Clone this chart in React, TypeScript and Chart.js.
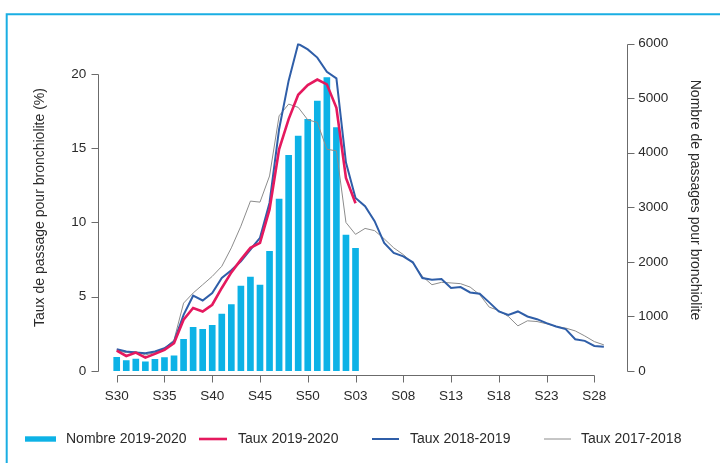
import React, { useEffect, useRef } from "react";
import { Chart, registerables } from "chart.js";

Chart.register(...registerables);

// ---------- Data ----------
const WEEKS = [
  "S30", "S31", "S32", "S33", "S34", "S35", "S36", "S37", "S38", "S39",
  "S40", "S41", "S42", "S43", "S44", "S45", "S46", "S47", "S48", "S49",
  "S50", "S51", "S52", "S01", "S02", "S03", "S04", "S05", "S06", "S07",
  "S08", "S09", "S10", "S11", "S12", "S13", "S14", "S15", "S16", "S17",
  "S18", "S19", "S20", "S21", "S22", "S23", "S24", "S25", "S26", "S27",
  "S28", "S29",
];

// Number of ER visits for bronchiolitis, 2019-2020 (right axis)
const NOMBRE_2019_2020 = [
  251, 189, 220, 170, 214, 244, 280, 581, 801, 764,
  837, 1044, 1215, 1557, 1722, 1576, 2193, 3151, 3952, 4306,
  4612, 4947, 5374, 4458, 2492, 2248,
];

// Rates (%) (left axis)
const TAUX_2019_2020 = [
  1.37, 1.01, 1.24, 0.9, 1.15, 1.42, 1.87, 3.45, 4.24, 4.01,
  4.46, 5.59, 6.64, 7.5, 8.29, 8.63, 10.88, 14.93, 16.96, 18.6,
  19.25, 19.62, 19.3, 17.72, 13.0, 11.3,
];

const TAUX_2018_2019 = [
  1.47, 1.31, 1.24, 1.19, 1.31, 1.53, 1.98, 3.78, 5.07, 4.75,
  5.25, 6.26, 6.78, 7.39, 8.18, 8.97, 11.33, 16.28, 19.55, 22.03,
  21.65, 21.1, 20.15, 19.7, 14.03, 11.65, 11.1, 10.09, 8.63, 7.95,
  7.72, 7.32, 6.26, 6.15, 6.2, 5.59, 5.65, 5.29, 5.2, 4.62,
  4.01, 3.78, 4.01, 3.67, 3.49, 3.22, 3.0, 2.82, 2.14, 2.03,
  1.69, 1.64,
];

const TAUX_2017_2018 = [
  1.37, 1.24, 1.31, 1.08, 1.24, 1.53, 2.09, 4.57, 5.25, 5.81,
  6.37, 7.05, 8.29, 9.75, 11.44, 11.37, 13.13, 17.18, 17.97, 17.75,
  16.91, 16.74, 14.93, 14.82, 10.0, 9.2, 9.6, 9.45, 8.9, 8.29,
  7.84, 7.27, 6.37, 5.81, 5.97, 5.93, 5.88, 5.65, 5.14, 4.3,
  4.07, 3.67, 3.04, 3.38, 3.33, 3.18, 3.0, 2.89, 2.7, 2.36,
  1.98, 1.76,
];

const LEFT_TICKS = [0, 5, 10, 15, 20];
const RIGHT_TICKS = [0, 1000, 2000, 3000, 4000, 5000, 6000];
const X_TICK_STEP = 5;

const LEFT_TITLE = "Taux de passage pour bronchiolite (%)";
const RIGHT_TITLE = "Nombre de passages pour bronchiolite";

// ---------- Styles ----------
const FONT = '"Liberation Sans", Arial, Helvetica, sans-serif';
const TEXT = "#2b2b2b";
const AXIS = "#6b6b6b";
const CYAN = "#0db2e6";
const RED = "#e5195e";
const BLUE = "#2f5ea8";
const GREY = "#8c8c8c";
const FRAME = "#1aaee3";

const toPoints = (arr: number[]) => arr.map((v, i) => ({ x: i, y: v }));

const decorPlugin = {
  id: "decor",
  afterDraw(chart: any) {
    const ctx = chart.ctx as CanvasRenderingContext2D;
    const area = chart.chartArea;
    const xS = chart.scales.x;
    const yL = chart.scales.y;
    const yR = chart.scales.y2;
    ctx.save();

    // frame
    ctx.strokeStyle = FRAME;
    ctx.lineWidth = 2;
    ctx.beginPath();
    ctx.moveTo(6.7, 463);
    ctx.lineTo(6.7, 14.3);
    ctx.lineTo(720, 14.3);
    ctx.stroke();

    // axes
    ctx.strokeStyle = AXIS;
    ctx.lineWidth = 1;
    const px = (v: number) => Math.round(v) + 0.5;

    // left axis
    const xl = px(area.left);
    ctx.beginPath();
    ctx.moveTo(xl, px(yL.getPixelForValue(LEFT_TICKS[0])));
    ctx.lineTo(xl, px(yL.getPixelForValue(LEFT_TICKS[LEFT_TICKS.length - 1])));
    LEFT_TICKS.forEach((v) => {
      const y = px(yL.getPixelForValue(v));
      ctx.moveTo(xl - 7, y);
      ctx.lineTo(xl, y);
    });
    ctx.stroke();

    // right axis
    const xr = px(area.right);
    ctx.beginPath();
    ctx.moveTo(xr, px(yR.getPixelForValue(RIGHT_TICKS[0])));
    ctx.lineTo(xr, px(yR.getPixelForValue(RIGHT_TICKS[RIGHT_TICKS.length - 1])));
    RIGHT_TICKS.forEach((v) => {
      const y = px(yR.getPixelForValue(v));
      ctx.moveTo(xr, y);
      ctx.lineTo(xr + 7, y);
    });
    ctx.stroke();

    // x axis
    const yb = px(area.bottom + 4);
    const xTicks: number[] = [];
    WEEKS.forEach((_, i) => {
      if (i % X_TICK_STEP === 0) xTicks.push(i);
    });
    ctx.beginPath();
    ctx.moveTo(px(xS.getPixelForValue(xTicks[0])), yb);
    ctx.lineTo(px(xS.getPixelForValue(xTicks[xTicks.length - 1])), yb);
    xTicks.forEach((i) => {
      const x = px(xS.getPixelForValue(i));
      ctx.moveTo(x, yb);
      ctx.lineTo(x, yb + 7);
    });
    ctx.stroke();

    // axis titles
    ctx.fillStyle = TEXT;
    ctx.font = `14px ${FONT}`;
    ctx.textAlign = "center";
    ctx.textBaseline = "middle";
    ctx.save();
    ctx.translate(40, 207.5);
    ctx.rotate(-Math.PI / 2);
    ctx.fillText(LEFT_TITLE, 0, 0);
    ctx.restore();
    ctx.save();
    ctx.translate(695, 200);
    ctx.rotate(Math.PI / 2);
    ctx.fillText(RIGHT_TITLE, 0, 0);
    ctx.restore();

    // legend
    const ly = 439;
    const items = [
      { idx: 3, kind: "box", x0: 25, x1: 56, tx: 66 },
      { idx: 0, kind: "line", x0: 199, x1: 227, tx: 238 },
      { idx: 1, kind: "line", x0: 372, x1: 399, tx: 410 },
      { idx: 2, kind: "line", x0: 544, x1: 571, tx: 581 },
    ];
    ctx.textAlign = "left";
    ctx.textBaseline = "middle";
    items.forEach((it) => {
      const ds = chart.data.datasets[it.idx];
      if (it.kind === "box") {
        ctx.fillStyle = ds.backgroundColor;
        ctx.fillRect(it.x0, ly - 2.7, it.x1 - it.x0, 5.4);
      } else {
        ctx.strokeStyle = ds.borderColor;
        ctx.lineWidth = ds.borderWidth;
        ctx.beginPath();
        ctx.moveTo(it.x0, ly);
        ctx.lineTo(it.x1, ly);
        ctx.stroke();
      }
      ctx.fillStyle = TEXT;
      ctx.fillText(ds.label, it.tx, ly);
    });

    ctx.restore();
  },
};

export default function App() {
  const canvasRef = useRef<HTMLCanvasElement | null>(null);

  useEffect(() => {
    if (!canvasRef.current) return;
    const tickFont = { family: FONT, size: 13.5 };
    const chart = new Chart(canvasRef.current, {
      type: "bar",
      data: {
        datasets: [
          {
            type: "line",
            label: "Taux 2019-2020",
            data: toPoints(TAUX_2019_2020),
            yAxisID: "y",
            borderColor: RED,
            borderWidth: 2.6,
            pointRadius: 0,
            tension: 0,
            order: 0,
          },
          {
            type: "line",
            label: "Taux 2018-2019",
            data: toPoints(TAUX_2018_2019),
            yAxisID: "y",
            borderColor: BLUE,
            borderWidth: 2,
            pointRadius: 0,
            tension: 0,
            order: 1,
          },
          {
            type: "line",
            label: "Taux 2017-2018",
            data: toPoints(TAUX_2017_2018),
            yAxisID: "y",
            borderColor: GREY,
            borderWidth: 1,
            pointRadius: 0,
            tension: 0,
            order: 2,
          },
          {
            type: "bar",
            label: "Nombre 2019-2020",
            data: toPoints(NOMBRE_2019_2020),
            yAxisID: "y2",
            backgroundColor: CYAN,
            borderWidth: 0,
            barThickness: 6,
            order: 3,
          },
        ] as any,
      },
      options: {
        responsive: false,
        animation: false,
        events: [],
        layout: { padding: { top: 43.5, left: 0, right: 0, bottom: 0 } },
        plugins: {
          legend: { display: false },
          tooltip: { enabled: false },
        },
        scales: {
          x: {
            type: "linear",
            offset: false,
            min: -1.99,
            max: 53.39,
            afterBuildTicks: (s: any) => {
              s.ticks = WEEKS.map((_, i) => ({ value: i })).filter(
                (t) => t.value % X_TICK_STEP === 0
              );
            },
            afterFit: (s: any) => {
              s.height = 92;
            },
            ticks: {
              callback: (v: any) => WEEKS[v as number],
              font: tickFont,
              color: TEXT,
              padding: 17,
              maxRotation: 0,
              autoSkip: false,
            },
            grid: { display: false, drawTicks: false },
            border: { display: false },
          },
          y: {
            type: "linear",
            position: "left",
            min: 0,
            max: 22.05,
            afterBuildTicks: (s: any) => {
              s.ticks = LEFT_TICKS.map((v) => ({ value: v }));
            },
            afterFit: (s: any) => {
              s.width = 97.7;
            },
            ticks: {
              font: tickFont,
              color: TEXT,
              padding: 11.5,
              callback: (v: any) => String(v),
            },
            grid: { display: false, drawTicks: false },
            border: { display: false },
          },
          y2: {
            type: "linear",
            position: "right",
            min: 0,
            max: 6000,
            afterBuildTicks: (s: any) => {
              s.ticks = RIGHT_TICKS.map((v) => ({ value: v }));
            },
            afterFit: (s: any) => {
              s.width = 93.3;
            },
            ticks: {
              font: tickFont,
              color: TEXT,
              padding: 11.5,
              callback: (v: any) => String(v),
            },
            grid: { display: false, drawTicks: false },
            border: { display: false },
          },
        },
      } as any,
      plugins: [decorPlugin],
    });
    return () => chart.destroy();
  }, []);

  return (
    <div
      style={{
        position: "fixed",
        left: 0,
        top: 0,
        width: 720,
        height: 463,
        background: "#ffffff",
      }}
    >
      <canvas
        ref={canvasRef}
        width={720}
        height={463}
        style={{ display: "block", width: 720, height: 463 }}
      />
    </div>
  );
}
